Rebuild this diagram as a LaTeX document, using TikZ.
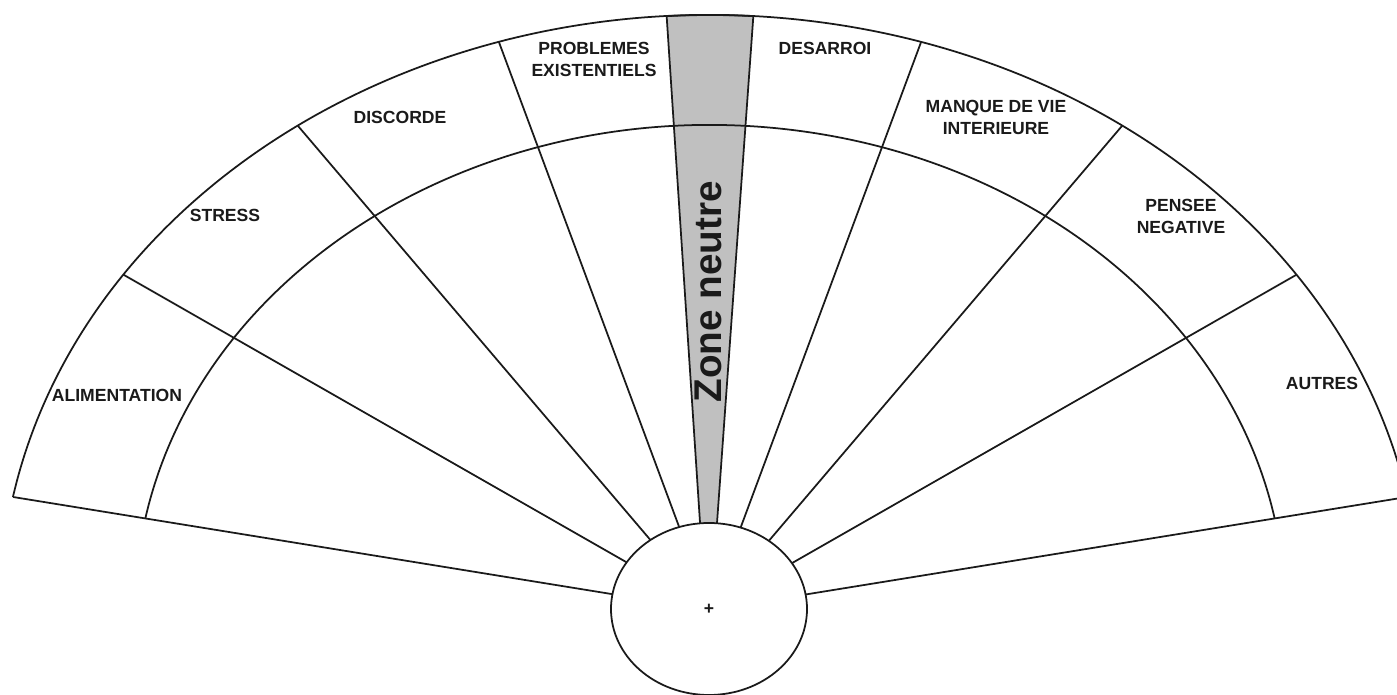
\documentclass[tikz,border=0pt]{standalone}
\usepackage{fontspec}
\setmainfont{Liberation Sans}
\definecolor{ink}     {HTML}{1A1A1A}
\definecolor{zonegray}{HTML}{C0C0C0}
\tikzset{
  fanline/.style  ={draw=ink, line width=1pt},
  sectlabel/.style={font=\fontsize{10}{12.5}\selectfont\bfseries,
                    align=center, inner sep=1pt, text=ink},
  zonelabel/.style={font=\fontsize{22}{24}\selectfont\bfseries,
                    rotate=90, inner sep=0pt, text=ink},
}
\begin{document}
\begin{tikzpicture}[x=0.02cm,y=0.02cm]
    \useasboundingbox (0,0) rectangle (1397,695);
    \coordinate (o) at (710,85);

    % neutral zone
    \filldraw[fanline, fill=zonegray] (o) ++(93.5:710 and 595) coordinate (zl)
      arc[start angle=93.5, end angle=86.5, x radius=710, y radius=595] coordinate (zr)
      -- (716.5,165) coordinate (zbr) -- (700.5,165) coordinate (zbl) -- cycle;

    % outer and inner arcs
    \draw[fanline] (o) ++(169.05:710 and 595) coordinate (lo)
      arc[start angle=169.05, end angle=10.95, x radius=710, y radius=595] coordinate (ro);
    \draw[fanline] (o) ++(169.05:575 and 485) coordinate (li)
      arc[start angle=169.05, end angle=10.95, x radius=575, y radius=485] coordinate (ri);

    % rays
    \draw[fanline] (o) -- (lo);
    \draw[fanline] (o) -- ++(145.7:710 and 595) coordinate (r1);
    \draw[fanline] (o) -- ++(125.5:710 and 595) coordinate (r2);
    \draw[fanline] (o) -- ++(107.3:710 and 595) coordinate (r3);
    \draw[fanline] (o) -- ++(72.7:710 and 595)  coordinate (r4);
    \draw[fanline] (o) -- ++(54.5:710 and 595)  coordinate (r5);
    \draw[fanline] (o) -- ++(34.3:710 and 595)  coordinate (r6);
    \draw[fanline] (o) -- (ro);

    % centre
    \draw[fanline, fill=white] (709,86) ellipse[x radius=98, y radius=86];
    \node[font=\normalsize\bfseries, text=ink] (plus) at (709,86) {+};

    % sector labels
    \node[sectlabel] (alim)  at (117,300) {ALIMENTATION};
    \node[sectlabel] (stres) at (225,480) {STRESS};
    \node[sectlabel] (disc)  at (400,578) {DISCORDE};
    \node[sectlabel] (prob)  at (594,636) {PROBLEMES\\EXISTENTIELS};
    \node[sectlabel] (desa)  at (825,647) {DESARROI};
    \node[sectlabel] (manq)  at (996,578) {MANQUE DE VIE\\INTERIEURE};
    \node[sectlabel] (pens)  at (1181,479) {PENSEE\\NEGATIVE};
    \node[sectlabel] (autr)  at (1322,312) {AUTRES};
    \node[zonelabel] (zone)  at (708,403) {Zone neutre};
\end{tikzpicture}
\end{document}
